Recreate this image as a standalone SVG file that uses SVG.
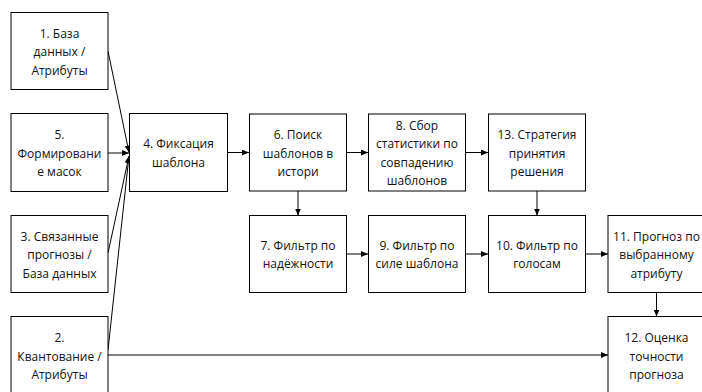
<svg xmlns="http://www.w3.org/2000/svg" width="702" height="392" viewBox="0 0 702 392">
<style>
.b{fill:#fff;stroke:#000;stroke-width:1}
.t{font-family:"Open Sans","Liberation Sans",sans-serif;font-size:12px;fill:#111;text-anchor:middle}
.c{stroke:#000;stroke-width:1;fill:none;marker-end:url(#a)}
</style>
<defs>
<marker id="a" markerWidth="7" markerHeight="6" refX="7" refY="3" orient="auto" markerUnits="userSpaceOnUse">
<path d="M0,0 L7,3 L0,6 Z" fill="#000"/>
</marker>
</defs>
<rect width="702" height="392" fill="#fff"/>
<g id="connectors">
<path class="c" d="M108,51 L129,152.5"/>
<path class="c" d="M108,153 L129,153"/>
<path class="c" d="M108,253 L129,156"/>
<path class="c" d="M108,350 L129,156"/>
<path class="c" d="M108,355 L608,355"/>
<path class="c" d="M228,152.5 L249,152.5"/>
<path class="c" d="M347,152.5 L368,152.5"/>
<path class="c" d="M466,152.5 L488,152.5"/>
<path class="c" d="M298,191 L298,215.5"/>
<path class="c" d="M537,191 L537,215.5"/>
<path class="c" d="M347,254 L368,254"/>
<path class="c" d="M466,254 L488,254"/>
<path class="c" d="M586,254 L608,254"/>
<path class="c" d="M656.5,293 L656.5,316.5"/>
</g>
<g id="n1"><rect class="b" x="11" y="12.5" width="97" height="77"/>
<text class="t"><tspan x="59.5" y="37.5">1. База</tspan><tspan x="59.5" y="56">данных /</tspan><tspan x="59.5" y="74.5">Атрибуты</tspan></text></g>
<g id="n5"><rect class="b" x="11" y="113.5" width="97" height="78"/>
<text class="t"><tspan x="59.5" y="139">5.</tspan><tspan x="59.5" y="157.5">Формировани</tspan><tspan x="59.5" y="176">е масок</tspan></text></g>
<g id="n3"><rect class="b" x="11" y="215.5" width="97" height="77"/>
<text class="t"><tspan x="59.5" y="240.5">3. Связанные</tspan><tspan x="59.5" y="259">прогнозы /</tspan><tspan x="59.5" y="277.5">База данных</tspan></text></g>
<g id="n2"><rect class="b" x="11" y="316.5" width="97" height="78"/>
<text class="t"><tspan x="59.5" y="342">2.</tspan><tspan x="59.5" y="360.5">Квантование /</tspan><tspan x="59.5" y="379">Атрибуты</tspan></text></g>
<g id="n4"><rect class="b" x="129.5" y="113.5" width="98" height="78"/>
<text class="t"><tspan x="178.5" y="148">4. Фиксация</tspan><tspan x="178.5" y="166.5">шаблона</tspan></text></g>
<g id="n6"><rect class="b" x="249.5" y="114" width="97" height="77"/>
<text class="t"><tspan x="298" y="139">6. Поиск</tspan><tspan x="298" y="157.5">шаблонов в</tspan><tspan x="298" y="176">истори</tspan></text></g>
<g id="n8"><rect class="b" x="368.5" y="114" width="97" height="77"/>
<text class="t"><tspan x="417" y="129.5">8. Сбор</tspan><tspan x="417" y="148">статистики по</tspan><tspan x="417" y="166.5">совпадению</tspan><tspan x="417" y="185">шаблонов</tspan></text></g>
<g id="n13"><rect class="b" x="488.5" y="114" width="97" height="77"/>
<text class="t"><tspan x="537" y="139">13. Стратегия</tspan><tspan x="537" y="157.5">принятия</tspan><tspan x="537" y="176">решения</tspan></text></g>
<g id="n7"><rect class="b" x="249.5" y="215.5" width="97" height="77"/>
<text class="t"><tspan x="298" y="249.5">7. Фильтр по</tspan><tspan x="298" y="268">надёжности</tspan></text></g>
<g id="n9"><rect class="b" x="368.5" y="215.5" width="97" height="77"/>
<text class="t"><tspan x="417" y="249.5">9. Фильтр по</tspan><tspan x="417" y="268">силе шаблона</tspan></text></g>
<g id="n10"><rect class="b" x="488.5" y="215.5" width="97" height="77"/>
<text class="t"><tspan x="537" y="249.5">10. Фильтр по</tspan><tspan x="537" y="268">голосам</tspan></text></g>
<g id="n11"><rect class="b" x="608" y="215.5" width="97" height="77"/>
<text class="t"><tspan x="656.5" y="240.5">11. Прогноз по</tspan><tspan x="656.5" y="259">выбранному</tspan><tspan x="656.5" y="277.5">атрибуту</tspan></text></g>
<g id="n12"><rect class="b" x="608" y="316.5" width="97" height="78"/>
<text class="t"><tspan x="656.5" y="342">12. Оценка</tspan><tspan x="656.5" y="360.5">точности</tspan><tspan x="656.5" y="379">прогноза</tspan></text></g>
</svg>
